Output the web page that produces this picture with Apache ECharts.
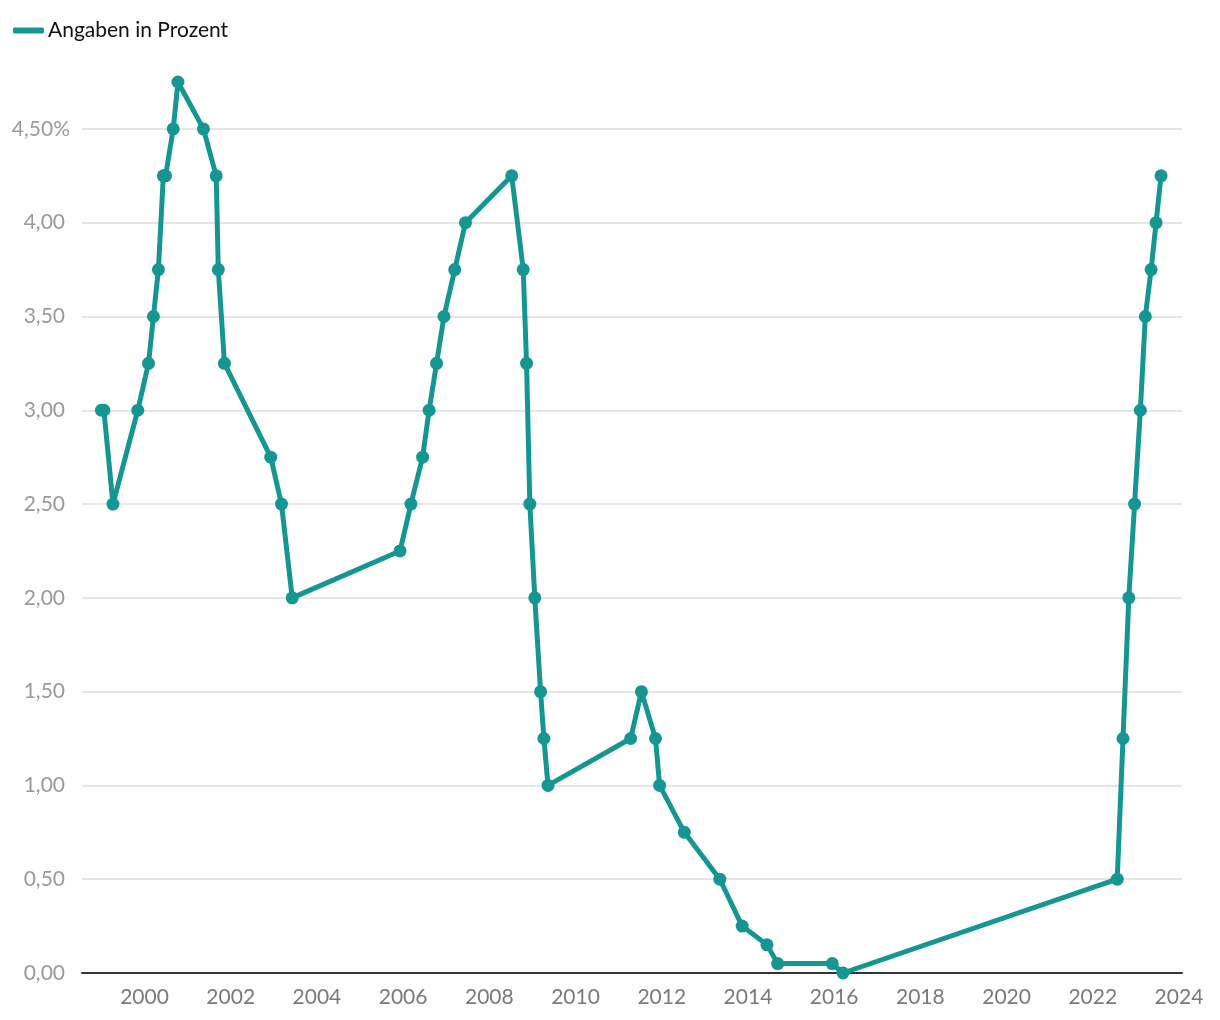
<!DOCTYPE html>
<html><head><meta charset="utf-8">
<script src="https://cdn.jsdelivr.net/npm/echarts@6/dist/echarts.min.js"></script>
<style>html,body{margin:0;padding:0;background:#fff}#c{width:1220px;height:1020px}</style>
</head><body><div id="c"></div>
<script>
const seriesName = 'Angaben in Prozent';
const dates = [
  '1999-01-01','1999-01-22','1999-04-09','1999-11-05','2000-02-04','2000-03-17','2000-04-28',
  '2000-06-09','2000-06-28','2000-09-01','2000-10-11','2001-05-15','2001-08-31','2001-09-18',
  '2001-11-09','2002-12-06','2003-03-07','2003-06-06','2005-12-06','2006-03-08','2006-06-15',
  '2006-08-09','2006-10-11','2006-12-13','2007-03-14','2007-06-13','2008-07-09','2008-10-15',
  '2008-11-12','2008-12-10','2009-01-21','2009-03-11','2009-04-08','2009-05-13','2011-04-13',
  '2011-07-13','2011-11-09','2011-12-14','2012-07-11','2013-05-08','2013-11-13','2014-06-11',
  '2014-09-10','2015-12-16','2016-03-16','2022-07-27','2022-09-14','2022-11-02','2022-12-21',
  '2023-02-08','2023-03-22','2023-05-10','2023-06-21','2023-08-02'
];
const rates = [
  3.00,3.00,2.50,3.00,3.25,3.50,3.75,
  4.25,4.25,4.50,4.75,4.50,4.25,3.75,
  3.25,2.75,2.50,2.00,2.25,2.50,2.75,
  3.00,3.25,3.50,3.75,4.00,4.25,3.75,
  3.25,2.50,2.00,1.50,1.25,1.00,1.25,
  1.50,1.25,1.00,0.75,0.50,0.25,0.15,
  0.05,0.05,0.00,0.50,1.25,2.00,2.50,
  3.00,3.50,3.75,4.00,4.25
];
const xTickYears = [2000,2002,2004,2006,2008,2010,2012,2014,2016,2018,2020,2022,2024];
const yTickValues = [0,0.5,1,1.5,2,2.5,3,3.5,4,4.5];

function toYear(s){
  const p = s.split('-').map(Number);
  const y = p[0];
  const start = Date.UTC(y,0,1), end = Date.UTC(y+1,0,1);
  return y + (Date.UTC(y,p[1]-1,p[2]) - start) / (end - start);
}
const points = dates.map((d,i) => [toYear(d), rates[i]]);
const teal = '#169693';

const chart = echarts.init(document.getElementById('c'), null, {renderer:'canvas'});
chart.setOption({
  animation:false,
  backgroundColor:'#fff',
  textStyle:{fontFamily:'Lato'},
  legend:{
    left:8, top:15,
    icon:'roundRect', itemWidth:31, itemHeight:6, itemGap:10,
    textStyle:{fontFamily:'Lato', fontSize:21, color:'#111', padding:[0,0,0,-1]},
    data:[{name:seriesName}]
  },
  grid:{left:82, right:38, top:82, bottom:47, containLabel:false},
  xAxis:{
    type:'value', min:1998.55, max:2024.07,
    axisLine:{show:true, lineStyle:{color:'#333', width:2}},
    axisTick:{show:false},
    splitLine:{show:false},
    axisLabel:{customValues:xTickYears, formatter:v=>String(Math.round(v)), color:'#7a7a7a', fontSize:21, margin:14, fontFamily:'Lato'}
  },
  yAxis:{
    type:'value', min:0, max:4.75, interval:0.5,
    axisLine:{show:false}, axisTick:{show:false},
    splitLine:{show:true, showMaxLine:false, lineStyle:{color:['#e6e6e6','#e6e6e6','#e6e6e6','#e6e6e6','#e6e6e6','#e6e6e6','#e6e6e6','#e6e6e6','#e6e6e6','#e6e6e6','rgba(0,0,0,0)'], width:2}},
    axisLabel:{
      customValues:yTickValues,
      margin:12, fontSize:21, color:'#9a9a9a', fontFamily:'Lato',
      formatter:v=>{
        const s = v.toFixed(2).replace('.', ',');
        return Math.abs(v-4.5)<1e-6 ? s+'%' : '{n|'+s+'}';
      },
      rich:{n:{fontSize:21, color:'#9a9a9a', fontFamily:'Lato', padding:[0,5,0,0]}}
    }
  },
  series:[{
    name:seriesName, type:'line', data:points,
    symbol:'circle', symbolSize:13, showSymbol:true,
    lineStyle:{color:teal, width:5, join:'round', cap:'round'},
    itemStyle:{color:teal},
    z:5
  }]
});
</script></body></html>
